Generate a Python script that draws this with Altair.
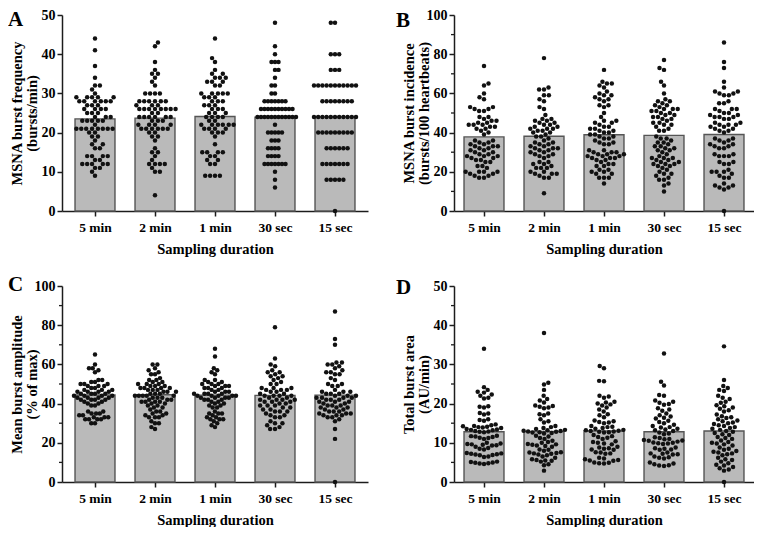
import json
import math
import altair as alt
import pandas as pd

categories = ["5 min", "2 min", "1 min", "30 sec", "15 sec"]

# ---------------- Panel A: MSNA burst frequency (bursts/min) ----------------
a_5min = [44, 41, 37, 34, 32, 32, 31, 30,
          29, 29, 29, 29, 29, 28, 28, 28, 28, 28, 28, 27, 27, 27, 26, 26, 26, 26,
          25, 25, 25, 24, 24, 24, 23, 23, 23, 23, 23,
          22, 21, 21, 21, 21, 21, 21, 21, 21, 20, 20, 19, 19, 18, 17, 17, 16, 16,
          14, 14, 14, 14, 13, 13, 12, 12, 12, 12, 12, 11, 11, 10, 9]
a_2min = [43, 42, 38, 36, 35, 35, 34, 33, 32, 30, 30, 30, 30,
          28, 28, 28, 28, 28, 28, 27, 27, 27, 26, 26, 26, 26, 26, 26, 26, 26,
          25, 25, 24, 24, 24, 24, 24, 24, 23, 23, 23, 22, 22, 22, 22,
          21, 21, 21, 21, 21, 21, 20, 20, 19, 19, 18, 16, 15, 15, 14, 13,
          12, 12, 12, 12, 11, 10, 10, 4]
a_1min = [44, 39, 38, 36, 35, 35, 34, 34, 34, 33, 33, 33, 32, 32,
          30, 30, 30, 30, 30, 29, 29, 29, 28, 28, 28, 27, 27, 27, 26, 26, 26,
          25, 25, 25, 24, 24, 24, 24, 23, 23, 22, 22, 22, 22, 22, 22,
          21, 21, 21, 21, 20, 20, 20, 19, 17, 15, 15, 15, 15, 14, 14, 13, 13,
          12, 12, 9, 9, 9, 9]
a_30sec = [48, 42, 40, 38, 38, 38, 36, 36, 34, 32, 32, 30, 30,
           28, 28, 28, 28, 28, 28, 28, 26, 26, 26, 26, 26, 26, 26, 26, 26, 26,
           24, 24, 24, 24, 24, 24, 24, 24, 24, 24, 24, 24, 22,
           20, 20, 20, 20, 20, 18, 18, 18, 16, 16, 16, 16, 14, 14, 14, 14,
           12, 12, 12, 12, 12, 12, 12, 10, 8, 6]
a_15sec = [48, 48, 40, 40, 40, 36, 36, 36,
           32, 32, 32, 32, 32, 32, 32, 32, 32, 32, 32,
           28, 28, 28, 28, 28, 28, 28, 28,
           24, 24, 24, 24, 24, 24, 24, 24, 24, 24, 24,
           20, 20, 20, 20, 20, 20, 20, 20, 20,
           16, 16, 16, 16, 16, 16, 12, 12, 12, 12, 12, 12, 12,
           8, 8, 8, 8, 8, 0]
a_means = [23.5, 23.7, 24.1, 23.9, 24.0]

# ---------------- Panel B: MSNA burst incidence ----------------
b_5min = [74, 65, 64, 60, 58, 57, 53, 53, 52, 52, 51, 51, 48, 48, 47, 46, 46,
          45, 45, 44, 44, 44, 43, 43, 42, 42, 41, 40, 39,
          36, 36, 35, 35, 34, 34, 33, 33, 33, 32, 32, 31, 31, 30, 30,
          29, 29, 28, 28, 28, 27, 27, 26, 26, 25, 25, 23, 23, 22,
          20, 20, 20, 20, 19, 19, 18, 18, 17, 17]
b_2min = [78, 63, 62, 62, 59, 59, 57, 56, 53, 52, 49, 47, 47, 46, 46, 45, 45,
          44, 44, 43, 43, 42, 42, 42, 41, 41, 40, 40, 39, 38, 38, 37, 36,
          35, 35, 34, 34, 33, 33, 32, 32, 32, 31, 31, 30, 30, 29,
          29, 28, 28, 27, 25, 25, 24, 24, 23, 22, 22, 22,
          20, 20, 19, 19, 19, 18, 17, 17, 9]
b_1min = [72, 66, 65, 65, 64, 63, 61, 60, 59, 59, 58, 57, 57, 56,
          54, 54, 53, 50, 48, 46, 46, 45, 45, 44, 43, 43, 42, 42, 41, 41, 40,
          40, 39, 39, 38, 38, 37, 37, 36, 35, 35, 34, 34,
          31, 31, 30, 30, 30, 29, 29, 29, 28, 28, 28, 27, 27, 27, 26, 26, 25,
          24, 24, 23, 23, 21, 21, 20, 20, 19, 19, 17, 17, 17, 14]
b_30sec = [77, 73, 72, 66, 64, 60, 57, 56, 56, 55, 54, 54, 53,
           52, 52, 52, 51, 51, 50, 50, 49, 49, 48, 48, 47, 47,
           46, 45, 45, 44, 44, 43, 42, 41, 41, 38, 37, 37, 36,
           35, 35, 34, 33, 33, 32, 32, 31, 31, 30, 29,
           28, 27, 27, 27, 26, 26, 25, 25, 24, 24, 24, 23, 23, 22,
           21, 20, 19, 19, 18, 17, 16, 16, 14, 13, 10]
b_15sec = [86, 76, 73, 66, 63, 61, 61, 60, 60, 59, 59, 56, 55, 55,
           52, 52, 52, 51, 50, 50, 49, 49, 48, 48, 48, 47, 47,
           45, 45, 44, 44, 44, 43, 43, 42, 42, 41, 41, 40,
           37, 37, 36, 36, 35, 34, 34, 33, 33, 32, 32,
           29, 29, 28, 28, 28, 25, 25, 24, 24, 21, 20, 20, 20, 19,
           18, 17, 17, 14, 13, 13, 12, 12, 11, 0]
b_means = [37.8, 38.1, 38.9, 38.6, 39.0]

# ---------------- Panel C: Mean burst amplitude ----------------
c_5min = [65, 60, 58, 58, 57, 56, 52, 52, 51, 51, 50, 50, 50, 49, 49, 49, 48, 48,
          47, 47, 47, 46, 46, 46, 46, 45, 45, 45, 45, 44, 44, 44, 44, 43, 43, 43, 43,
          42, 42, 42, 42, 41, 41, 40, 40, 39, 39, 36, 36, 35, 35, 35,
          34, 34, 33, 33, 33, 32, 32, 32, 32, 30, 30]
c_2min = [60, 60, 58, 57, 56, 55, 55, 53, 52, 52, 51, 51, 50, 50, 50,
          49, 49, 49, 48, 48, 48, 48, 47, 47, 47, 46, 46, 46, 45, 45, 45,
          44, 44, 44, 44, 44, 43, 43, 43, 42, 42, 42, 41, 41, 41, 41,
          40, 40, 39, 39, 38, 38, 37, 36, 36, 35, 35, 34, 34, 33, 33, 33,
          31, 30, 30, 28, 27]
c_1min = [68, 64, 58, 57, 56, 55, 52, 52, 51, 51, 50, 50, 50, 49, 49, 49, 48, 48, 48,
          47, 47, 46, 46, 46, 45, 45, 45, 45, 44, 44, 44, 44, 44, 43, 43, 43, 43,
          42, 42, 42, 41, 41, 40, 40, 39, 39, 38, 38, 36, 35, 35, 35, 34,
          33, 33, 32, 32, 32, 31, 30, 29, 28]
c_30sec = [79, 63, 60, 59, 57, 56, 56, 55, 54, 54, 53, 52, 51, 50, 50,
           48, 48, 48, 47, 47, 47, 46, 46, 45, 45, 44, 44, 44, 44, 43,
           43, 42, 42, 42, 42, 41, 41, 41, 40, 40, 39, 39, 39, 38, 38, 37, 37,
           36, 36, 36, 35, 34, 34, 33, 33, 31, 30, 30, 29, 28, 27, 27]
c_15sec = [87, 73, 70, 61, 61, 60, 60, 59, 58, 57, 56, 56, 55, 55, 53, 52,
           50, 50, 49, 49, 47, 46, 46, 46, 45, 45, 45, 44, 44, 44, 43, 43, 43, 43,
           42, 42, 42, 41, 41, 41, 40, 40, 39, 39, 39, 38, 38, 38,
           37, 37, 36, 36, 36, 35, 35, 35, 34, 34, 34, 33, 33, 32, 31, 27, 22, 0]
c_means = [44.4, 44.5, 44.3, 44.2, 44.3]

# ---------------- Panel D: Total burst area (AU/min) ----------------
d_5min = [34, 24.2, 23.5, 23, 22.8, 22.3, 22, 21.5, 21.3, 19.3, 19.2, 19,
          17.6, 17.5, 17.2, 16, 15.8, 15.6, 14.7, 14.5, 14.3, 14.2, 14.1, 14, 13.9, 13.8,
          13.5, 13.4, 13.3, 13.2, 13, 12.9, 12.8, 12.7, 11.8, 11.7, 11.6, 11.5, 11.3, 11.2, 11,
          10, 9.8, 9.7, 9.6, 9.5, 9.4, 9.3, 9, 8.7, 8.5, 8.3,
          7.4, 7.3, 7.2, 7.1, 7, 6.9, 6.8, 6.5, 6.4, 5.2, 5.1, 5, 4.9, 4.8, 4.7, 4.6]
d_2min = [38, 25.3, 24.9, 23.5, 22, 21.2, 20.8, 20.3, 19.5, 19.4, 19.2, 19, 18.8,
          17.5, 17.3, 17, 16, 15.5, 15.2, 14.3, 14, 13.8,
          13.5, 13.3, 13.2, 13.1, 13, 12.9, 12.8, 12.7, 12.6, 12.5, 12.4,
          11.8, 11.6, 11.2, 11, 10.5, 10.2, 10, 9.7, 9.6, 9.5, 9.3, 9.2, 9,
          8.3, 8.2, 8, 7.6, 7.5, 7.4, 7.3, 7.2, 7, 6.8, 6.5,
          6.2, 5.8, 5.6, 5.5, 5.4, 5.2, 4.5, 4.3, 2.9]
d_1min = [29.6, 29, 25.8, 25.7, 22, 21.8, 21.5, 20.5, 20.3, 20, 19.8, 19.5,
          19, 18.5, 18, 17.3, 17, 16.5, 15.7, 15.5, 15.3, 15.2, 15,
          14.3, 14.1, 14, 13.8, 13.6, 13.3, 13.2, 13.1, 13, 12.9, 12.8, 12.7, 12.6,
          12, 11.7, 11.5, 11.3, 11, 10.4, 10.2, 10, 9.8, 9.6,
          9, 8.8, 8.6, 8.5, 8.3, 8.2, 7.6, 7.5, 7.3, 7.2,
          6.2, 6, 5.8, 5.6, 5.5, 5.4, 5, 4.9, 4.8, 4.7]
d_30sec = [32.8, 25.6, 24.6, 22.2, 22, 20.8, 20.5, 20.2, 19.9, 19.7, 18.8, 18.5, 18.2,
           17.5, 17, 16.7, 16.4, 16.2, 15.6, 15.3, 15, 14.6, 14.3, 14, 13.9,
           13.6, 13.4, 13.2, 13, 12.6, 12.4, 12.2,
           11.4, 11.2, 11, 10.9, 10.7, 10.6, 10.5, 10.3, 10.1, 10, 9.9, 9.8, 9.7,
           8.8, 8.6, 8.5, 8.3, 8.2, 7.5, 7.3, 7.2, 7.1, 7,
           6.5, 6.3, 6.2, 6, 5, 4.7, 4.5, 4.3, 4.2, 4.1]
d_15sec = [34.6, 26, 24.5, 24, 23.5, 23.2, 22, 21.5, 21.2, 20.5, 20.2, 19.6, 19.3, 19,
           18.7, 18.3, 18, 17.2, 16.8, 16.5, 16.3, 16, 15.7, 15.5, 15.2, 15, 14.8,
           14.5, 14.3, 14, 13.8, 13.6, 13.3, 13, 12.8, 12.5, 12.2,
           12, 11.5, 11.2, 11, 10.6, 10.2, 10, 9.8, 9.6, 9.3,
           8.8, 8.5, 8.2, 7.9, 7.7, 7.5, 7.3, 7.1,
           6.8, 6.2, 5.8, 5.6, 5.2, 4.8, 4.4, 4.2, 3.8, 3.5, 3.2, 2.9, 0]
d_means = [12.8, 12.9, 13.0, 12.8, 13.0]

FONT = "Liberation Serif"
INK = "#1c1c1c"
H = 196
DOT_D = 4.9        # swarm spacing in px
HALF_CAP = 21.0    # max half-width of a swarm in px


def swarm(vals, ppu, d):
    """Simple beeswarm: offsets in px so dots of diameter d do not overlap."""
    order = sorted(range(len(vals)), key=lambda i: vals[i])
    placed = []
    offs = [0.0] * len(vals)
    for k, i in enumerate(order):
        y = vals[i] * ppu
        iv = []
        for px, py in placed:
            dy = abs(py - y)
            if dy < d:
                w = math.sqrt(d * d - dy * dy)
                iv.append((px - w, px + w))
        cands = [0.0] + [a for a, b in iv] + [b for a, b in iv]
        ok = [c for c in cands if all(not (a + 1e-6 < c < b - 1e-6) for a, b in iv)]
        sgn = 1 if k % 2 else -1
        best = min(ok, key=lambda c: (round(abs(c), 6), sgn * c))
        placed.append((best, y))
        offs[i] = best
    m = max(abs(o) for o in offs) if offs else 0
    if m > HALF_CAP:
        offs = [o * HALF_CAP / m for o in offs]
    return offs


def panel(letter, groups, means, ymax, yticks, minor, ytitle, W, xdom, lxy):
    ppu = H / ymax
    step = W / (xdom[1] - xdom[0])
    prow = []
    for gi, vals in enumerate(groups):
        offs = swarm(vals, ppu, DOT_D)
        for v, o in zip(vals, offs):
            prow.append({"px": gi + o / step, "v": v})
    pdf = pd.DataFrame(prow)
    bdf = pd.DataFrame({"x1": [i - 0.333 for i in range(len(means))],
                        "x2": [i + 0.333 for i in range(len(means))],
                        "mean": means})
    xscale = alt.Scale(domain=xdom, nice=False, zero=False)
    yscale = alt.Scale(domain=[0, ymax], nice=False)
    xaxis = alt.Axis(values=list(range(len(categories))),
                     labelExpr=json.dumps(categories) + "[datum.value]",
                     title="Sampling duration", grid=False,
                     domainColor=INK, domainWidth=1.5, tickColor=INK, tickWidth=1.5,
                     tickSize=5, labelFont=FONT, labelFontSize=13.5, labelFontWeight="bold",
                     labelColor="black", labelPadding=4, labelOverlap=False,
                     titleFont=FONT, titleFontSize=14.5, titleFontWeight="bold",
                     titleColor="black", titlePadding=9)
    yaxis = alt.Axis(values=yticks, title=ytitle, grid=False,
                     domainColor=INK, domainWidth=1.5, tickColor=INK, tickWidth=1.5,
                     tickSize=5, labelFont=FONT, labelFontSize=14, labelFontWeight="bold",
                     labelColor="black", labelPadding=2,
                     titleFont=FONT, titleFontSize=14.5, titleFontWeight="bold",
                     titleColor="black", titleX=-38, titleY=H / 2, titleLineHeight=15)
    bars = alt.Chart(bdf).mark_bar(fill="#bababa", stroke="#555555", strokeWidth=1.4).encode(
        x=alt.X("x1:Q", scale=xscale, axis=xaxis), x2="x2:Q",
        y=alt.Y("mean:Q", scale=yscale, axis=yaxis), y2=alt.datum(0))
    pts = alt.Chart(pdf).mark_circle(size=20, color="#111111", opacity=1).encode(
        x=alt.X("px:Q", scale=xscale, axis=xaxis),
        y=alt.Y("v:Q", scale=yscale, axis=yaxis))
    layers = [bars, pts]
    if minor:
        mdf = pd.DataFrame({"m": minor})
        layers.append(alt.Chart(mdf).mark_rule(color=INK, strokeWidth=1.3).encode(
            y=alt.Y("m:Q", scale=yscale, axis=yaxis),
            x=alt.value(0), x2=alt.value(-3)))
    ldf = pd.DataFrame({"t": [letter]})
    layers.append(alt.Chart(ldf).mark_text(font=FONT, fontSize=21, fontWeight="bold",
                                           align="left", baseline="top", color="black").encode(
        text="t:N", x=alt.value(lxy[0]), y=alt.value(lxy[1])))
    return alt.layer(*layers).properties(width=W, height=H)


pA = panel("A", [a_5min, a_2min, a_1min, a_30sec, a_15sec], a_means, 50,
           [0, 10, 20, 30, 40, 50], None,
           ["MSNA burst frequency", "(bursts/min)"], 306, [-0.55, 4.55], (-54, -6))
pB = panel("B", [b_5min, b_2min, b_1min, b_30sec, b_15sec], b_means, 100,
           [0, 20, 40, 60, 80, 100], [10, 30, 50, 70, 90],
           ["MSNA burst incidence", "(bursts/100 heartbeats)"], 300, [-0.5, 4.5], (-58, -5))
pC = panel("C", [c_5min, c_2min, c_1min, c_30sec, c_15sec], c_means, 100,
           [0, 20, 40, 60, 80, 100], [10, 30, 50, 70, 90],
           ["Mean burst amplitude", "(% of max)"], 306, [-0.55, 4.55], (-54, -12))
pD = panel("D", [d_5min, d_2min, d_1min, d_30sec, d_15sec], d_means, 50,
           [0, 10, 20, 30, 40, 50], [5, 15, 25, 35, 45],
           ["Total burst area", "(AU/min)"], 300, [-0.5, 4.5], (-58, -9))

chart = alt.concat(pA, pB, pC, pD, columns=2,
                   spacing={"row": 18, "column": 28}).properties(
    padding=0, background="white").configure_view(strokeWidth=0)

chart.save("out.html", embed_options={"renderer": "svg", "actions": False})
